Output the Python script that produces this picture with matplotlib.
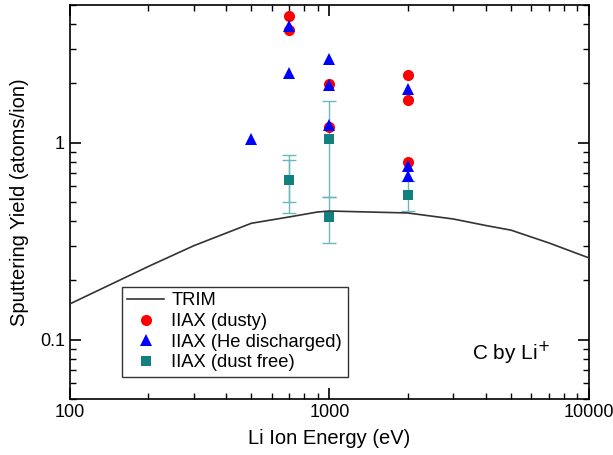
import matplotlib.pyplot as plt
from matplotlib.ticker import LogLocator, NullFormatter, FixedLocator, FixedFormatter

plt.rcParams["font.family"] = ["Liberation Sans", "DejaVu Sans"]

# TRIM calculation
trim_energy = [100, 200, 300, 500, 700, 900, 1000, 2000, 3000, 4000, 5000, 7000, 10000]
trim_yield = [0.152, 0.235, 0.30, 0.39, 0.42, 0.445, 0.45, 0.44, 0.41, 0.38, 0.36, 0.31, 0.26]

# IIAX (dusty)
dusty_energy = [700, 700, 1000, 1000, 2000, 2000, 2000]
dusty_yield = [4.4, 3.75, 1.98, 1.2, 2.2, 1.65, 0.80]

# IIAX (He discharged)
he_energy = [500, 700, 700, 1000, 1000, 1000, 2000, 2000, 2000]
he_yield = [1.05, 3.9, 2.25, 2.65, 1.96, 1.23, 1.88, 0.76, 0.68]

# IIAX (dust free) with error bar ranges
free_energy = [700, 700, 1000, 1000, 2000]
free_yield = [0.65, 0.65, 1.04, 0.42, 0.54]
free_low = [0.44, 0.50, 0.53, 0.31, 0.45]
free_high = [0.87, 0.82, 1.62, 0.53, 0.64]

fig, ax = plt.subplots(figsize=(6.13, 4.55), dpi=100)
fig.subplots_adjust(left=0.114, right=0.961, top=0.989, bottom=0.123)

teal = "#138080"
err_lo = [y - lo for y, lo in zip(free_yield, free_low)]
err_hi = [hi - y for y, hi in zip(free_yield, free_high)]
ax.errorbar(free_energy, free_yield, yerr=[err_lo, err_hi], fmt="none",
            ecolor="#6cb8b8", elinewidth=1.0, capsize=5, capthick=1.0, zorder=2)

ax.plot(trim_energy, trim_yield, color="#333333", lw=1.2, label="TRIM", zorder=3)
ax.plot(dusty_energy, dusty_yield, "o", color="#ff0000", ms=8, mew=0,
        label="IIAX (dusty)", zorder=4)
ax.plot(he_energy, he_yield, "^", color="#0000ff", ms=9, mew=0,
        label="IIAX (He discharged)", zorder=5)
ax.plot(free_energy, free_yield, "s", color=teal, ms=7, mew=0,
        label="IIAX (dust free)", zorder=6)

ax.set_xscale("log")
ax.set_yscale("log")
ax.set_xlim(100, 10000)
ax.set_ylim(0.05, 5)

ax.xaxis.set_major_locator(FixedLocator([100, 1000, 10000]))
ax.xaxis.set_major_formatter(FixedFormatter(["100", "1000", "10000"]))
ax.xaxis.set_minor_locator(LogLocator(base=10, subs=range(2, 10)))
ax.xaxis.set_minor_formatter(NullFormatter())
ax.yaxis.set_major_locator(FixedLocator([0.1, 1]))
ax.yaxis.set_major_formatter(FixedFormatter(["0.1", "1"]))
ax.yaxis.set_minor_locator(LogLocator(base=10, subs=range(2, 10)))
ax.yaxis.set_minor_formatter(NullFormatter())

ax.tick_params(which="both", direction="in", top=True, right=True, labelsize=13)
ax.tick_params(which="major", length=8, width=1.2)
ax.tick_params(which="minor", length=4, width=1.0)
for sp in ax.spines.values():
    sp.set_linewidth(1.2)

ax.set_xlabel("Li Ion Energy (eV)", fontsize=14.5, labelpad=6)
ax.set_ylabel("Sputtering Yield (atoms/ion)", fontsize=14.5, labelpad=8)

leg = ax.legend(loc="lower left", bbox_to_anchor=(0.1, 0.056), fontsize=13.2,
                frameon=True, fancybox=False, edgecolor="black",
                handlelength=2.0, handletextpad=0.4, borderpad=0.3,
                labelspacing=0.2, borderaxespad=0, numpoints=1)
leg.get_frame().set_linewidth(1.0)

ax.text(0.85, 0.115, "C by Li$^{+}$", transform=ax.transAxes, fontsize=15,
        ha="center", va="center")

fig.savefig("out.png", dpi=100)
